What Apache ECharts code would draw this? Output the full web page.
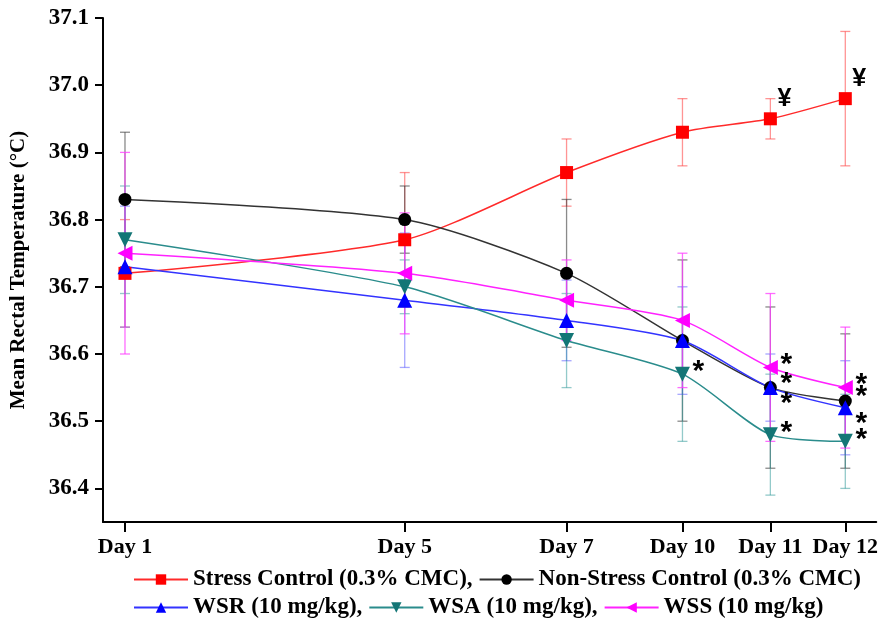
<!DOCTYPE html>
<html>
<head>
<meta charset="utf-8">
<script src="https://cdn.jsdelivr.net/npm/echarts@6/dist/echarts.min.js"></script>
<style>
html,body{margin:0;padding:0;background:#fff;}
#chart{width:881px;height:628px;}
</style>
</head>
<body>
<div id="chart"></div>
<script>
// ---- data ----
const dayLabels = ['Day 1', 'Day 5', 'Day 7', 'Day 10', 'Day 11', 'Day 12'];
// horizontal placement of each day on the (non-linear) x scale of the original figure
const dayPos = [22, 302, 464, 580, 668, 743];

const seriesNames = ['Stress Control (0.3% CMC)', 'Non-Stress Control (0.3% CMC)', 'WSR (10 mg/kg)', 'WSA (10 mg/kg)', 'WSS (10 mg/kg)'];

const stressMean    = [36.72, 36.77, 36.87, 36.93, 36.95, 36.98];
const stressErr     = [0.08, 0.10, 0.05, 0.05, 0.03, 0.10];
const nonStressMean = [36.83, 36.80, 36.72, 36.62, 36.55, 36.53];
const nonStressErr  = [0.10, 0.05, 0.11, 0.12, 0.12, 0.10];
const wsrMean       = [36.73, 36.68, 36.65, 36.62, 36.55, 36.52];
const wsrErr        = [0.09, 0.10, 0.06, 0.08, 0.05, 0.07];
const wsaMean       = [36.77, 36.70, 36.62, 36.57, 36.48, 36.47];
const wsaErr        = [0.08, 0.04, 0.07, 0.10, 0.09, 0.07];
const wssMean       = [36.75, 36.72, 36.68, 36.65, 36.58, 36.55];
const wssErr        = [0.15, 0.09, 0.06, 0.10, 0.11, 0.09];

// significance marks
const stressNote    = ['', '', '', '', '¥', '¥'];
const nonStressNote = ['', '', '', '', '*', '*'];
const wsrNote       = ['', '', '', '', '*', '*'];
const wsaNote       = ['', '', '', '*', '*', '*'];
const wssNote       = ['', '', '', '', '*', '*'];

const yTicks = [36.4, 36.5, 36.6, 36.7, 36.8, 36.9, 37.0, 37.1];

// ---- build ----
const SERIF = '"Liberation Serif", "Times New Roman", serif';

const defs = [
  {name: seriesNames[0], mean: stressMean, err: stressErr, note: stressNote,
   line: '#ff2a2a', mark: '#ff0000', bar: 'rgba(255,60,60,0.55)', symbol: 'rect', size: 13, rot: 0, off: [14, -20], noteFont: 25},
  {name: seriesNames[1], mean: nonStressMean, err: nonStressErr, note: nonStressNote,
   line: '#333333', mark: '#000000', bar: 'rgba(60,60,60,0.6)', symbol: 'circle', size: 13, rot: 0, off: [16, -4], noteFont: 30},
  {name: seriesNames[2], mean: wsrMean, err: wsrErr, note: wsrNote,
   line: '#3333ff', mark: '#0000ff', bar: 'rgba(80,80,255,0.5)', symbol: 'triangle', size: 15, rot: 0, off: [16, 16], noteFont: 30},
  {name: seriesNames[3], mean: wsaMean, err: wsaErr, note: wsaNote,
   line: '#2a8c8c', mark: '#137676', bar: 'rgba(40,150,150,0.5)', symbol: 'triangle', size: 15, rot: 180, off: [16, -2], noteFont: 30},
  {name: seriesNames[4], mean: wssMean, err: wssErr, note: wssNote,
   line: '#ff22ff', mark: '#ff00ff', bar: 'rgba(255,60,255,0.75)', symbol: 'triangle', size: 15, rot: 90, off: [16, -3], noteFont: 30}
];

const series = [];
// error bars (drawn first, under the lines)
defs.forEach(function (d) {
  series.push({
    type: 'custom',
    name: d.name + ' err',
    silent: true,
    z: 1,
    data: dayPos.map(function (x, i) { return [x, d.mean[i] - d.err[i], d.mean[i] + d.err[i]]; }),
    renderItem: function (params, api) {
      const lo = api.coord([api.value(0), api.value(1)]);
      const hi = api.coord([api.value(0), api.value(2)]);
      const w = 5;
      const st = {stroke: d.bar, lineWidth: 1.3};
      return {
        type: 'group',
        children: [
          {type: 'line', shape: {x1: lo[0], y1: lo[1], x2: hi[0], y2: hi[1]}, style: st},
          {type: 'line', shape: {x1: lo[0] - w, y1: lo[1], x2: lo[0] + w, y2: lo[1]}, style: st},
          {type: 'line', shape: {x1: hi[0] - w, y1: hi[1], x2: hi[0] + w, y2: hi[1]}, style: st}
        ]
      };
    }
  });
});
// lines with markers
defs.forEach(function (d) {
  series.push({
    type: 'line',
    name: d.name,
    z: 3,
    smooth: 0.25,
    symbol: d.symbol,
    symbolSize: d.size,
    symbolRotate: d.rot,
    lineStyle: {color: d.line, width: 1.5},
    itemStyle: {color: d.mark},
    color: d.mark,
    data: dayPos.map(function (x, i) {
      const item = {value: [x, d.mean[i]]};
      if (d.note[i]) {
        item.label = {
          show: true, formatter: d.note[i], position: 'inside', offset: d.off,
          color: '#000', fontSize: d.noteFont, fontFamily: '"Liberation Sans", Arial, sans-serif', fontWeight: 'bold'
        };
      }
      return item;
    }),
    label: {show: false},
    emphasis: {disabled: true}
  });
});

const legendText = {fontFamily: SERIF, fontWeight: 'bold', fontSize: 23, color: '#000'};

const option = {
  backgroundColor: '#fff',
  animation: false,
  grid: {left: 103, right: 4, top: 18, bottom: 106, containLabel: false},
  xAxis: {
    type: 'value', min: 0, max: 774,
    axisLine: {show: true, onZero: false, lineStyle: {color: '#000', width: 2}},
    axisTick: {show: true, inside: false, length: 10, lineStyle: {color: '#000', width: 2}, customValues: dayPos},
    axisLabel: {
      customValues: dayPos, margin: 14,
      formatter: function (v) { const i = dayPos.indexOf(v); return i >= 0 ? dayLabels[i] : ''; },
      fontFamily: SERIF, fontWeight: 'bold', fontSize: 22, color: '#000'
    },
    splitLine: {show: false}
  },
  yAxis: {
    type: 'value', min: 36.35, max: 37.1,
    name: 'Mean Rectal Temperature (°C)', nameLocation: 'middle', nameGap: 74, nameRotate: 90,
    nameTextStyle: {fontFamily: SERIF, fontWeight: 'bold', fontSize: 21, color: '#000'},
    axisLine: {show: true, lineStyle: {color: '#000', width: 2}},
    axisTick: {show: true, inside: false, length: 8, lineStyle: {color: '#000', width: 2}, customValues: yTicks},
    axisLabel: {
      customValues: yTicks, margin: 14,
      formatter: function (v) { return v.toFixed(1); },
      fontFamily: SERIF, fontWeight: 'bold', fontSize: 23, color: '#000'
    },
    splitLine: {show: false}
  },
  legend: [
    {
      data: [seriesNames[0], seriesNames[1]],
      left: 133, top: 568, itemWidth: 54, itemHeight: 13, itemGap: 6, padding: 0,
      formatter: function (n) { return n === seriesNames[0] ? n + ',' : n; },
      textStyle: legendText, selectedMode: false
    },
    {
      data: [seriesNames[2], seriesNames[3], seriesNames[4]],
      left: 133, top: 596, itemWidth: 54, itemHeight: 13, itemGap: 6, padding: 0,
      formatter: function (n) { return n === seriesNames[4] ? n : n + ','; },
      textStyle: legendText, selectedMode: false
    }
  ],
  series: series
};

const chart = echarts.init(document.getElementById('chart'), null, {renderer: 'canvas'});
chart.setOption(option);
</script>
</body>
</html>
